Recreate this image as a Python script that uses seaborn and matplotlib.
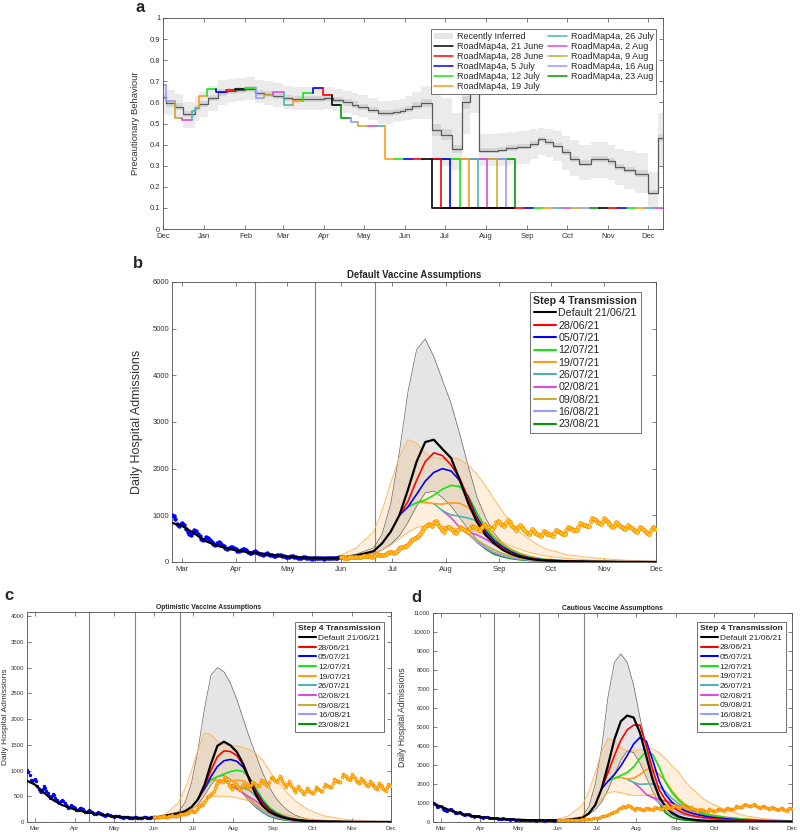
import numpy as np
import pandas as pd
import seaborn as sns
import matplotlib.pyplot as plt
import matplotlib.dates as mdates
from matplotlib.lines import Line2D
from matplotlib.patches import Patch

nan = np.nan

# ---------------- panel a : precautionary behaviour ----------------
med_dates = ['2020-12-01', '2020-12-03', '2020-12-10', '2020-12-16', '2020-12-25', '2020-12-28',
             '2021-01-04', '2021-01-11', '2021-01-18', '2021-01-25', '2021-02-01', '2021-02-08',
             '2021-02-15', '2021-02-22', '2021-03-01', '2021-03-08', '2021-04-01', '2021-04-08',
             '2021-04-15', '2021-04-22', '2021-04-27', '2021-05-04', '2021-05-12', '2021-05-23',
             '2021-05-28', '2021-06-01', '2021-06-06', '2021-06-13', '2021-06-21', '2021-06-28',
             '2021-07-06', '2021-07-14', '2021-07-20', '2021-07-27', '2021-08-10', '2021-08-16',
             '2021-08-24', '2021-09-03', '2021-09-09', '2021-09-14', '2021-09-20', '2021-09-27',
             '2021-10-03', '2021-10-10', '2021-10-19', '2021-11-01', '2021-11-06', '2021-11-13',
             '2021-11-21', '2021-12-01', '2021-12-08', '2021-12-12']
med_vals = [0.625, 0.595, 0.58, 0.545, 0.575, 0.593, 0.62, 0.647, 0.655, 0.66, 0.665, 0.645,
            0.64, 0.63, 0.62, 0.615, 0.62, 0.61, 0.60, 0.59, 0.578, 0.565, 0.55, 0.555,
            0.56, 0.57, 0.585, 0.598, 0.47, 0.446, 0.38, 0.60, 0.72, 0.371, 0.376, 0.384,
            0.39, 0.403, 0.425, 0.413, 0.395, 0.363, 0.33, 0.31, 0.33, 0.32, 0.295, 0.28,
            0.263, 0.172, 0.43, 0.43]
outer_lo = [0.55, 0.54, 0.52, 0.48, 0.51, 0.53, 0.56, 0.59, 0.60, 0.605, 0.61, 0.595,
            0.59, 0.58, 0.57, 0.565, 0.57, 0.56, 0.55, 0.54, 0.53, 0.515, 0.50, 0.505,
            0.51, 0.515, 0.52, 0.52, 0.33, 0.30, 0.28, 0.45, 0.55, 0.30, 0.30, 0.305,
            0.31, 0.33, 0.35, 0.34, 0.32, 0.28, 0.25, 0.23, 0.24, 0.23, 0.21, 0.19,
            0.17, 0.09, 0.30, 0.30]
outer_hi = [0.69, 0.66, 0.64, 0.60, 0.63, 0.65, 0.68, 0.705, 0.71, 0.715, 0.72, 0.705,
            0.70, 0.69, 0.68, 0.675, 0.675, 0.665, 0.655, 0.645, 0.635, 0.62, 0.605, 0.61,
            0.615, 0.63, 0.65, 0.68, 0.64, 0.62, 0.55, 0.75, 0.85, 0.45, 0.455, 0.46,
            0.465, 0.475, 0.48, 0.475, 0.465, 0.44, 0.42, 0.40, 0.41, 0.40, 0.38, 0.37,
            0.36, 0.27, 0.55, 0.55]
inner_lo = [0.61, 0.58, 0.565, 0.53, 0.56, 0.578, 0.605, 0.632, 0.64, 0.645, 0.65, 0.63,
            0.625, 0.615, 0.605, 0.60, 0.605, 0.595, 0.585, 0.575, 0.563, 0.55, 0.535, 0.54,
            0.545, 0.555, 0.57, 0.58, 0.44, 0.42, 0.36, 0.57, 0.69, 0.36, 0.365, 0.372,
            0.378, 0.39, 0.412, 0.40, 0.382, 0.35, 0.316, 0.297, 0.317, 0.305, 0.28, 0.265,
            0.248, 0.16, 0.41, 0.41]
inner_hi = [0.64, 0.61, 0.595, 0.56, 0.59, 0.608, 0.635, 0.662, 0.67, 0.675, 0.68, 0.66,
            0.655, 0.645, 0.635, 0.63, 0.635, 0.625, 0.615, 0.605, 0.593, 0.58, 0.565, 0.57,
            0.575, 0.585, 0.60, 0.615, 0.50, 0.475, 0.40, 0.63, 0.75, 0.385, 0.39, 0.397,
            0.402, 0.415, 0.438, 0.425, 0.408, 0.378, 0.345, 0.325, 0.345, 0.335, 0.31, 0.295,
            0.278, 0.185, 0.45, 0.45]

fit_dates = ['2020-12-01', '2020-12-03', '2020-12-10', '2020-12-15', '2020-12-23', '2020-12-25',
             '2020-12-28', '2021-01-03', '2021-01-10', '2021-01-17', '2021-01-24', '2021-02-01',
             '2021-02-09', '2021-02-15', '2021-02-22', '2021-03-02', '2021-03-09', '2021-03-16',
             '2021-03-24', '2021-03-31', '2021-04-07', '2021-04-14', '2021-04-21', '2021-04-27',
             '2021-05-04', '2021-05-11', '2021-05-17', '2021-05-24', '2021-05-31', '2021-06-07',
             '2021-06-14', '2021-06-21']
fit_vals = [0.683, 0.607, 0.525, 0.515, 0.557, 0.575, 0.628, 0.664, 0.647, 0.66, 0.662, 0.667,
            0.623, 0.636, 0.649, 0.589, 0.605, 0.644, 0.67, 0.633, 0.589, 0.527, 0.507, 0.49,
            0.49, 0.49, 0.33, 0.33, 0.33, 0.33, 0.33, 0.33]
fit_cols = ['lav', 'lav', 'gold', 'mag', 'teal', 'teal', 'orange', 'green', 'blue', 'red',
            'black', 'green', 'lav', 'gold', 'mag', 'teal', 'orange', 'green', 'blue', 'red',
            'black', 'dkgreen', 'lav', 'gold', 'mag', 'teal', 'orange', 'green', 'blue', 'red',
            'black']

roadmap_names = ['RoadMap4a, 21 June', 'RoadMap4a, 28 June', 'RoadMap4a, 5 July',
                 'RoadMap4a, 12 July', 'RoadMap4a, 19 July', 'RoadMap4a, 26 July',
                 'RoadMap4a, 2 Aug', 'RoadMap4a, 9 Aug', 'RoadMap4a, 16 Aug', 'RoadMap4a, 23 Aug']
release_dates = ['2021-06-21', '2021-06-28', '2021-07-05', '2021-07-12', '2021-07-19',
                 '2021-07-26', '2021-08-02', '2021-08-09', '2021-08-16', '2021-08-23']
pre_release = 0.33
post_release = 0.1

# ---------------- panels b-d : hospital admissions ----------------
step_labels = ['Default 21/06/21', '28/06/21', '05/07/21', '12/07/21', '19/07/21',
               '26/07/21', '02/08/21', '09/08/21', '16/08/21', '23/08/21']
roadmap_steps = ['2021-04-12', '2021-05-17', '2021-06-21']

early = ['2021-02-23', '2021-03-01', '2021-03-08', '2021-03-15', '2021-03-22', '2021-04-01',
         '2021-04-10', '2021-04-20', '2021-05-01', '2021-05-10', '2021-05-20']
grid = ['2021-06-01', '2021-06-10', '2021-06-20', '2021-06-25', '2021-06-30', '2021-07-05',
        '2021-07-10', '2021-07-15', '2021-07-20', '2021-07-25', '2021-07-30', '2021-08-04',
        '2021-08-09', '2021-08-14', '2021-08-19', '2021-08-24', '2021-08-29', '2021-09-03',
        '2021-09-08', '2021-09-13', '2021-09-18', '2021-09-23', '2021-09-28', '2021-10-10',
        '2021-10-25', '2021-11-10', '2021-12-01']

# default vaccine assumptions (b)
b_early = [840, 770, 610, 440, 340, 250, 200, 160, 115, 95, 85]
b_black = [90, 140, 230, 400, 650, 1000, 1550, 2150, 2570, 2620, 2420, 2230, 1760, 1260, 860,
           580, 400, 260, 170, 110, 70, 45, 30, 15, 6, 3, 1]
b_red = [nan] * 5 + [1000, 1300, 1750, 2150, 2340, 2280, 2080, 1800, 1350, 920, 620, 430, 290,
                     190, 125, 80, 52, 35, 18, 7, 3, 1]
b_blue = [nan] * 5 + [1000, 1180, 1450, 1730, 1920, 2000, 1950, 1750, 1380, 960, 660, 460, 320,
                      215, 140, 92, 60, 40, 20, 8, 3, 1]
b_green = [nan] * 6 + [1180, 1270, 1330, 1430, 1560, 1640, 1620, 1420, 1060, 730, 500, 350, 240,
                       160, 105, 70, 48, 24, 10, 4, 1]
b_orange = [nan] * 7 + [1270, 1280, 1250, 1240, 1270, 1260, 1170, 970, 740, 540, 390, 275, 190,
                        130, 90, 60, 30, 12, 5, 2]
b_teal = [nan] * 9 + [1250, 1100, 1010, 980, 940, 880, 700, 510, 360, 240, 160, 105, 70, 46, 22,
                      9, 4, 1]
b_mag = [nan] * 10 + [1100, 950, 740, 640, 580, 490, 380, 280, 200, 140, 95, 65, 44, 21, 9, 4, 1]
b_gold = [nan] * 12 + [740, 600, 470, 360, 260, 180, 125, 85, 58, 40, 28, 14, 6, 2, 1]
b_lav = [nan] * 13 + [600, 430, 300, 200, 135, 92, 62, 42, 28, 20, 10, 4, 2, 1]
b_dkg = [nan] * 14 + [430, 280, 170, 110, 72, 48, 32, 22, 15, 8, 3, 1, 0]
b_grey_hi = [100, 170, 300, 600, 1250, 2350, 3650, 4550, 4780, 4400, 3900, 3400, 2750, 2050,
             1400, 950, 620, 400, 250, 150, 95, 60, 40, 18, 7, 3, 1]
b_grey_lo = [80, 120, 180, 260, 380, 560, 850, 1200, 1480, 1520, 1380, 1200, 950, 700, 480, 320,
             210, 140, 90, 58, 38, 25, 16, 8, 3, 1, 0]
b_orng_hi = [150, 300, 650, 1100, 1700, 2250, 2620, 2550, 2330, 2240, 2220, 2240, 2200, 2080,
             1880, 1640, 1350, 1080, 830, 640, 500, 380, 280, 160, 90, 45, 15]
b_orng_lo = [80, 110, 190, 260, 360, 500, 640, 740, 780, 790, 770, 740, 710, 680, 640, 580, 500,
             420, 340, 270, 210, 165, 130, 75, 40, 20, 8]

# optimistic vaccine assumptions (c)
c_early = [800, 730, 570, 430, 330, 240, 190, 150, 110, 90, 80]
c_black = [80, 120, 170, 210, 290, 440, 720, 1130, 1480, 1560, 1490, 1360, 1120, 800, 510, 310,
           200, 135, 90, 60, 40, 27, 18, 9, 4, 2, 1]
c_red = [nan] * 5 + [440, 680, 1000, 1270, 1380, 1370, 1290, 1100, 830, 560, 360, 230, 150, 100,
                     66, 44, 30, 20, 10, 4, 2, 1]
c_blue = [nan] * 5 + [440, 640, 880, 1080, 1190, 1215, 1180, 1060, 840, 590, 390, 250, 165, 110,
                      72, 48, 32, 22, 11, 5, 2, 1]
c_green = [nan] * 6 + [640, 820, 880, 930, 980, 1005, 980, 850, 640, 440, 290, 190, 125, 82, 55,
                       37, 25, 12, 5, 2, 1]
c_orange = [nan] * 7 + [820, 810, 800, 800, 810, 800, 720, 570, 410, 280, 190, 128, 86, 58, 40,
                        27, 14, 6, 3, 1]
c_teal = [nan] * 9 + [800, 720, 680, 660, 610, 500, 370, 260, 175, 118, 80, 54, 36, 25, 12, 5, 2, 1]
c_mag = [nan] * 10 + [720, 640, 560, 480, 400, 310, 225, 160, 110, 75, 50, 34, 23, 11, 5, 2, 1]
c_gold = [nan] * 12 + [560, 440, 330, 240, 170, 118, 80, 55, 37, 25, 17, 8, 3, 1, 0]
c_lav = [nan] * 13 + [440, 300, 200, 130, 88, 60, 40, 27, 18, 12, 6, 2, 1, 0]
c_dkg = [nan] * 14 + [300, 190, 115, 72, 46, 30, 20, 13, 9, 4, 2, 1, 0]
c_grey_hi = [90, 140, 200, 380, 760, 1400, 2200, 2850, 3000, 2920, 2700, 2380, 2000, 1620, 1280,
             950, 680, 470, 320, 210, 135, 88, 58, 25, 10, 4, 1]
c_grey_lo = [70, 100, 120, 160, 230, 340, 520, 720, 880, 900, 830, 700, 540, 390, 270, 180, 120,
             80, 52, 34, 22, 15, 10, 5, 2, 1, 0]
c_orng_hi = [90, 150, 380, 650, 1000, 1400, 1730, 1700, 1570, 1500, 1480, 1480, 1450, 1400, 1320,
             1200, 1000, 820, 680, 540, 420, 320, 240, 120, 55, 25, 8]
c_orng_lo = [50, 70, 120, 170, 240, 330, 420, 480, 500, 500, 490, 470, 440, 400, 350, 300, 250,
             200, 160, 125, 98, 76, 60, 35, 18, 9, 4]

# cautious vaccine assumptions (d)
d_early = [950, 820, 620, 470, 360, 260, 200, 160, 120, 95, 85]
d_black = [85, 120, 220, 450, 900, 1750, 3000, 4350, 5300, 5600, 5500, 4700, 3450, 2200, 1320,
           800, 480, 300, 200, 140, 100, 75, 55, 30, 15, 8, 4]
d_red = [nan] * 5 + [1750, 2600, 3500, 4300, 4850, 5100, 5100, 4000, 2750, 1700, 1150, 800, 580,
                     440, 350, 280, 230, 190, 120, 70, 40, 20]
d_blue = [nan] * 5 + [1750, 2150, 2500, 2950, 3500, 4100, 4450, 4250, 3250, 2150, 1450, 1050,
                      780, 600, 480, 390, 320, 260, 170, 100, 60, 30]
d_green = [nan] * 6 + [2150, 2300, 2450, 2600, 2900, 3350, 3700, 3550, 2900, 2100, 1550, 1150,
                       880, 700, 560, 450, 360, 230, 140, 80, 40]
d_orange = [nan] * 7 + [2300, 2350, 2250, 2300, 2500, 2750, 2780, 2500, 2150, 1650, 1250, 950,
                        750, 600, 480, 390, 250, 150, 90, 45]
d_teal = [nan] * 9 + [2250, 2080, 1980, 2000, 2000, 1850, 1600, 1250, 980, 780, 630, 510, 420,
                      340, 220, 130, 75, 35]
d_mag = [nan] * 10 + [2080, 1800, 1450, 1280, 1200, 1100, 1000, 850, 720, 600, 500, 420, 350,
                      230, 140, 80, 40]
d_gold = [nan] * 12 + [1450, 1300, 1150, 950, 780, 640, 530, 440, 370, 310, 260, 170, 100, 60, 30]
d_lav = [nan] * 13 + [1300, 1000, 760, 580, 450, 360, 290, 240, 200, 165, 110, 65, 40, 20]
d_dkg = [nan] * 14 + [1000, 480, 250, 150, 100, 70, 50, 36, 26, 14, 7, 3, 1]
d_grey_hi = [100, 170, 300, 800, 2000, 3900, 6600, 8400, 8850, 8400, 7200, 5500, 3900, 2450,
             1450, 800, 450, 260, 150, 90, 55, 35, 22, 10, 4, 2, 1]
d_grey_lo = [80, 110, 250, 400, 650, 1050, 1700, 2500, 3250, 3750, 3650, 3100, 2350, 1600, 1000,
             600, 360, 220, 135, 85, 55, 35, 22, 10, 4, 2, 1]
d_orng_hi = [150, 350, 900, 1600, 2600, 3700, 4400, 4250, 3900, 3750, 3750, 3800, 3850, 3850,
             3650, 3350, 2950, 2650, 2150, 1800, 1500, 1200, 1000, 650, 330, 170, 70]
d_orng_lo = [60, 120, 300, 500, 800, 1200, 1550, 1600, 1550, 1450, 1400, 1400, 1420, 1450, 1400,
             1250, 1050, 850, 680, 540, 430, 340, 270, 160, 85, 45, 20]

# observed daily admissions
fitted_start = '2021-02-23'
fitted_obs = [1010, 980, 920, 810, 780, 820, 840, 790, 700, 650, 600, 580, 640, 690,
              660, 610, 560, 500, 470, 500, 540, 520, 470, 430, 390, 360, 400, 430,
              410, 370, 340, 310, 280, 300, 330, 320, 290, 270, 240, 230, 250, 280,
              270, 250, 220, 200, 190, 210, 230, 220, 200, 180, 165, 155, 170, 185,
              175, 160, 150, 135, 125, 140, 150, 145, 130, 120, 110, 100, 115, 125,
              120, 110, 100, 95, 85, 95, 105, 100, 92, 85, 80, 75, 85, 95,
              92, 85, 80, 76, 72, 82, 95, 92, 88, 84, 80, 78, 88, 100, 105, 100]
later_start = '2021-06-01'
later_obs = [105, 100, 96, 92, 90, 98, 112, 115, 110, 105, 100, 98, 110, 125,
             130, 125, 120, 118, 115, 135, 160, 165, 160, 155, 150, 148, 170, 200,
             210, 215, 205, 200, 210, 250, 290, 320, 330, 340, 350, 380, 430, 480,
             500, 520, 540, 560, 600, 660, 720, 760, 790, 820, 800, 780, 850, 870,
             830, 780, 720, 680, 650, 720, 760, 740, 700, 680, 650, 620, 690, 740,
             720, 700, 680, 660, 640, 720, 780, 760, 740, 720, 700, 690, 760, 820,
             790, 760, 740, 720, 700, 780, 860, 880, 850, 820, 790, 770, 840, 900,
             860, 800, 760, 720, 680, 740, 790, 740, 700, 660, 620, 590, 640, 700,
             660, 620, 600, 570, 550, 600, 660, 640, 610, 590, 570, 560, 620, 680,
             660, 640, 620, 610, 600, 680, 740, 720, 700, 690, 680, 680, 760, 830,
             820, 800, 790, 780, 780, 880, 940, 920, 890, 860, 840, 820, 880, 940,
             900, 850, 810, 780, 760, 800, 860, 820, 780, 750, 720, 700, 740, 790,
             760, 720, 690, 660, 640, 700, 760, 720, 680, 650, 620, 600, 680, 740,
             720, 700]

# ---------------- styling ----------------
sns.set_style('ticks')
plt.rcParams['font.family'] = ['Liberation Sans', 'DejaVu Sans']

pal = {'black': '#000000', 'red': '#ff0000', 'blue': '#0000ff', 'green': '#14e614',
       'orange': '#ff9a1a', 'teal': '#4db3b3', 'mag': '#d94dd9', 'gold': '#ccaa33',
       'lav': '#9999ff', 'dkgreen': '#009900'}
scen_cols = ['black', 'red', 'blue', 'green', 'orange', 'teal', 'mag', 'gold', 'lav', 'dkgreen']
tail_cols = ['red', 'blue', 'green', 'orange', 'teal', 'mag', 'gold', 'lav', 'dkgreen', 'black']


def curve(ax, x, y, color, lw, **kw):
    df = pd.DataFrame({'date': pd.to_datetime(x), 'val': y}).dropna()
    sns.lineplot(data=df, x='date', y='val', ax=ax, color=color, linewidth=lw,
                 estimator=None, sort=False, legend=False, **kw)


def frame(ax, fs):
    ax.xaxis.set_major_locator(mdates.MonthLocator())
    ax.xaxis.set_major_formatter(mdates.DateFormatter('%b'))
    ax.tick_params(direction='in', top=True, right=True, labelsize=fs, length=3,
                   width=0.5, color='0.3', labelcolor='0.2', pad=2)
    ax.tick_params(axis='x', pad=3)
    for sp in ax.spines.values():
        sp.set_linewidth(0.6)
        sp.set_color('0.3')
    ax.set_xlabel('')
    ax.set_ylabel('')


fig = plt.figure(figsize=(8, 8.32), dpi=100)


def axes_px(x0, x1, y0, y1):
    return fig.add_axes([x0 / 800, 1 - y1 / 832, (x1 - x0) / 800, (y1 - y0) / 832])


# ---------------- panel a ----------------
ax = axes_px(163, 663, 18, 229)
md = pd.to_datetime(med_dates)
ax.fill_between(md, outer_lo, outer_hi, step='post', color='0.92', lw=0)
ax.fill_between(md, inner_lo, inner_hi, step='post', color='0.84', lw=0)
curve(ax, med_dates, med_vals, '0.35', 0.9, drawstyle='steps-post')

for i in range(len(fit_dates) - 1):
    if i == 0:
        xs, ys = [fit_dates[0], fit_dates[1]], [fit_vals[0], fit_vals[0]]
    else:
        xs = [fit_dates[i], fit_dates[i], fit_dates[i + 1]]
        ys = [fit_vals[i - 1], fit_vals[i], fit_vals[i]]
    curve(ax, xs, ys, pal[fit_cols[i]], 1.2)

for k in range(len(release_dates) - 1, -1, -1):
    xs = [release_dates[0], release_dates[k], release_dates[k], release_dates[-1]]
    ys = [pre_release, pre_release, post_release, post_release]
    curve(ax, xs, ys, pal[scen_cols[k]], 1.2)

tail = pd.date_range(release_dates[-1], '2021-12-12', freq='7D').append(
    pd.DatetimeIndex(['2021-12-12']))
for i in range(len(tail) - 1):
    curve(ax, [tail[i], tail[i + 1]], [post_release, post_release],
          pal[tail_cols[i % len(tail_cols)]], 1.2)

frame(ax, 5.5)
ax.set_xlim(pd.Timestamp('2020-12-01'), pd.Timestamp('2021-12-12'))
ax.set_ylim(0, 1)
ax.set_yticks(np.arange(0, 1.01, 0.1))
ax.set_yticklabels(['0', '0.1', '0.2', '0.3', '0.4', '0.5', '0.6', '0.7', '0.8', '0.9', '1'])
ax.set_ylabel('Precautionary Behaviour', fontsize=6.8, color='0.2')
ax.yaxis.set_label_coords(-0.046, 0.5)
hand = [Patch(facecolor='0.9', edgecolor='none', label='Recently Inferred')]
hand += [Line2D([], [], color=pal[c], lw=1.1, label=n) for c, n in zip(scen_cols, roadmap_names)]
leg = ax.legend(handles=hand, ncol=2, loc='upper right', bbox_to_anchor=(0.996, 0.968),
                fontsize=6.5, labelspacing=0.12, handlelength=2.1, handletextpad=0.4,
                columnspacing=0.6, borderpad=0.3, fancybox=False, framealpha=1)
leg.get_frame().set_edgecolor('0.35')
leg.get_frame().set_linewidth(0.6)
fig.text(140 / 800, 1 - 8 / 832, 'a', fontsize=12, fontweight='bold', ha='center', va='center')


# ---------------- panels b-d ----------------
def admissions(ax, early_vals, scen, grey_hi, grey_lo, orng_hi, orng_lo, dot_s, lab_fs):
    g = pd.to_datetime(grid)
    for d in roadmap_steps:
        ax.axvline(pd.Timestamp(d), color='0.5', lw=0.8, zorder=0.5)
    ax.fill_between(g, grey_lo, grey_hi, color='0.55', alpha=0.22, lw=0)
    ax.fill_between(g, orng_lo, orng_hi, color='#ff9a1a', alpha=0.15, lw=0)
    curve(ax, grid, grey_hi, '0.4', 0.5)
    curve(ax, grid, grey_lo, '0.4', 0.5)
    curve(ax, grid, orng_hi, '#ffb050', 0.6)
    curve(ax, grid, orng_lo, '#ffb050', 0.6)
    obs = pd.DataFrame({'date': pd.date_range(fitted_start, periods=len(fitted_obs)),
                        'val': fitted_obs})
    sns.scatterplot(data=obs, x='date', y='val', ax=ax, color='#0000ff', s=dot_s,
                    edgecolor='#0000ff', linewidth=0, legend=False, zorder=3)
    for k in range(len(scen) - 1, -1, -1):
        x = early + grid if k == 0 else grid
        y = early_vals + scen[0] if k == 0 else scen[k]
        curve(ax, x, y, pal[scen_cols[k]], 1.6 if k == 0 else 1.2, zorder=4 if k == 0 else 3.5)
    later = pd.DataFrame({'date': pd.date_range(later_start, periods=len(later_obs)),
                          'val': later_obs})
    sns.scatterplot(data=later, x='date', y='val', ax=ax, color='#ffd21a', s=dot_s * 0.8,
                    edgecolor='#ff7a00', linewidth=0.45, legend=False, zorder=5)
    frame(ax, lab_fs)
    ax.set_xlim(pd.Timestamp('2021-02-23'), pd.Timestamp('2021-12-01'))


def step_legend(ax, anchor, fs):
    hand = [Line2D([], [], color=pal[c], lw=1.5, label=n) for c, n in zip(scen_cols, step_labels)]
    leg = ax.legend(handles=hand, loc='upper right', bbox_to_anchor=anchor, fontsize=fs,
                    title='Step 4 Transmission', title_fontproperties={'weight': 'bold', 'size': fs},
                    labelspacing=0.22, handlelength=2.0, handletextpad=0.25, borderpad=0.35,
                    fancybox=False, framealpha=1)
    leg.get_frame().set_edgecolor('0.35')
    leg.get_frame().set_linewidth(0.6)


# b
ax = axes_px(172, 656, 282, 562)
admissions(ax, b_early,
           [b_black, b_red, b_blue, b_green, b_orange, b_teal, b_mag, b_gold, b_lav, b_dkg],
           b_grey_hi, b_grey_lo, b_orng_hi, b_orng_lo, 10, 5.5)
ax.set_ylim(0, 6000)
ax.set_yticks(range(0, 6001, 1000))
ax.set_title('Default Vaccine Assumptions', fontsize=6.9, fontweight='bold', pad=3)
ax.set_ylabel('Daily Hospital Admissions', fontsize=9, color='0.2')
ax.yaxis.set_label_coords(-0.06, 0.5)
step_legend(ax, (0.98, 0.983), 7.7)
fig.text(138 / 800, 1 - 263 / 832, 'b', fontsize=12, fontweight='bold', ha='center', va='center')

# c
ax = axes_px(27, 391, 612, 822)
admissions(ax, c_early,
           [c_black, c_red, c_blue, c_green, c_orange, c_teal, c_mag, c_gold, c_lav, c_dkg],
           c_grey_hi, c_grey_lo, c_orng_hi, c_orng_lo, 6, 4.3)
ax.set_ylim(0, 4080)
ax.set_yticks(range(0, 4001, 500))
ax.set_title('Optimistic Vaccine Assumptions', fontsize=4.9, fontweight='bold', pad=2)
ax.set_ylabel('Daily Hospital Admissions', fontsize=6, color='0.2')
ax.yaxis.set_label_coords(-0.05, 0.5)
step_legend(ax, (0.992, 0.971), 6.0)
fig.text(9 / 800, 1 - 596 / 832, 'c', fontsize=12, fontweight='bold', ha='center', va='center')

# d
ax = axes_px(433, 792, 613, 822)
admissions(ax, d_early,
           [d_black, d_red, d_blue, d_green, d_orange, d_teal, d_mag, d_gold, d_lav, d_dkg],
           d_grey_hi, d_grey_lo, d_orng_hi, d_orng_lo, 5, 4.3)
ax.set_ylim(0, 11000)
ax.set_yticks(range(0, 11001, 1000))
ax.set_title('Cautious Vaccine Assumptions', fontsize=4.9, fontweight='bold', pad=2)
ax.set_ylabel('Daily Hospital Admissions', fontsize=6.2, color='0.2')
ax.yaxis.set_label_coords(-0.072, 0.5)
step_legend(ax, (0.994, 0.976), 6.0)
fig.text(416 / 800, 1 - 597 / 832, 'd', fontsize=12, fontweight='bold', ha='center', va='center')

fig.savefig('out.png', dpi=100)
